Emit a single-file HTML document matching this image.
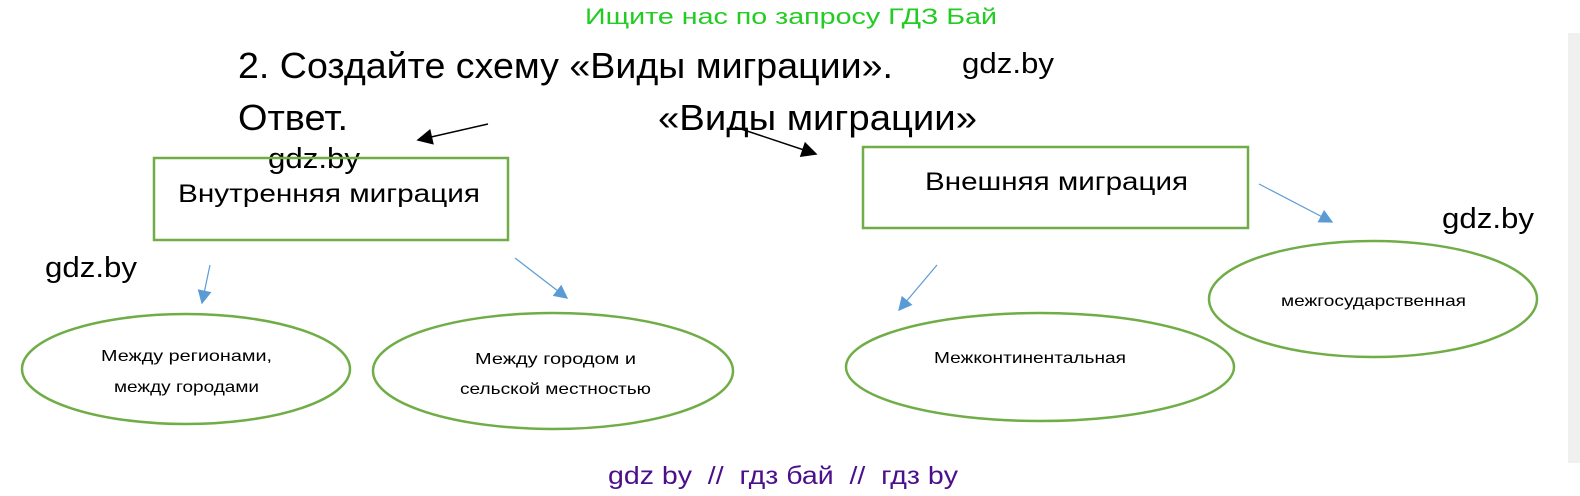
<!DOCTYPE html>
<html><head><meta charset="utf-8"><style>
html,body{margin:0;padding:0;background:#fff;}
svg{display:block;}
</style></head><body>
<svg width="1580" height="496" viewBox="0 0 1580 496" xmlns="http://www.w3.org/2000/svg">
<defs>
<marker id="ab" viewBox="0 0 10 10" refX="9" refY="5" markerUnits="userSpaceOnUse" markerWidth="20" markerHeight="16" orient="auto"><path d="M0,0 L10,5 L0,10 z" fill="#000"/></marker>
<marker id="ablue" viewBox="0 0 10 10" refX="9" refY="5" markerUnits="userSpaceOnUse" markerWidth="16" markerHeight="14" orient="auto"><path d="M0,0 L10,5 L0,10 z" fill="#5b9bd5"/></marker>
</defs>
<rect x="1568" y="33" width="12" height="430" fill="#f0f0f0"/>
<g font-family="Liberation Sans, DejaVu Sans, sans-serif">
<text x="585" y="24" font-size="22" fill="#22cc22" textLength="412" lengthAdjust="spacingAndGlyphs">Ищите нас по запросу ГДЗ Бай</text>
<text x="238" y="78" font-size="36" fill="#000" textLength="655" lengthAdjust="spacingAndGlyphs">2. Создайте схему «Виды миграции».</text>
<text x="962" y="73" font-size="29" fill="#000" textLength="92" lengthAdjust="spacingAndGlyphs">gdz.by</text>
<text x="238" y="130" font-size="36" fill="#000" textLength="110" lengthAdjust="spacingAndGlyphs">Ответ.</text>
<text x="658" y="130" font-size="36" fill="#000" textLength="319" lengthAdjust="spacingAndGlyphs">«Виды миграции»</text>
<text x="268" y="168" font-size="29" fill="#000" textLength="92" lengthAdjust="spacingAndGlyphs">gdz.by</text>
<text x="1442" y="228" font-size="29" fill="#000" textLength="92" lengthAdjust="spacingAndGlyphs">gdz.by</text>
<text x="45" y="277" font-size="29" fill="#000" textLength="92" lengthAdjust="spacingAndGlyphs">gdz.by</text>
</g>
<line x1="488" y1="124" x2="418" y2="140" stroke="#000" stroke-width="1.5" marker-end="url(#ab)"/>
<line x1="735" y1="127" x2="816" y2="154" stroke="#000" stroke-width="1.5" marker-end="url(#ab)"/>
<rect x="154" y="158" width="354" height="82" fill="none" stroke="#70ad47" stroke-width="2.5"/>
<rect x="863" y="147" width="385" height="81" fill="none" stroke="#70ad47" stroke-width="2.5"/>
<g font-family="Liberation Sans, DejaVu Sans, sans-serif" fill="#000">
<text x="178" y="202" font-size="25" textLength="302" lengthAdjust="spacingAndGlyphs">Внутренняя миграция</text>
<text x="925" y="190" font-size="25" textLength="263" lengthAdjust="spacingAndGlyphs">Внешняя миграция</text>
</g>
<g stroke="#5b9bd5" stroke-width="1.2" fill="none">
<line x1="210" y1="265" x2="202" y2="303" marker-end="url(#ablue)"/>
<line x1="515" y1="258" x2="567" y2="298" marker-end="url(#ablue)"/>
<line x1="937" y1="265" x2="899" y2="310" marker-end="url(#ablue)"/>
<line x1="1259" y1="184" x2="1332" y2="222" marker-end="url(#ablue)"/>
</g>
<g fill="none" stroke="#70ad47" stroke-width="2.5">
<ellipse cx="186" cy="369" rx="164" ry="55"/>
<ellipse cx="553" cy="371" rx="180" ry="58"/>
<ellipse cx="1040" cy="367" rx="194" ry="54"/>
<ellipse cx="1373" cy="299" rx="164" ry="58"/>
</g>
<g font-family="Liberation Sans, DejaVu Sans, sans-serif" font-size="16" fill="#000">
<text x="101" y="361" textLength="171" lengthAdjust="spacingAndGlyphs">Между регионами,</text>
<text x="114" y="392" textLength="145" lengthAdjust="spacingAndGlyphs">между городами</text>
<text x="475" y="364" textLength="161" lengthAdjust="spacingAndGlyphs">Между городом и</text>
<text x="460" y="394" textLength="191" lengthAdjust="spacingAndGlyphs">сельской местностью</text>
<text x="934" y="363" textLength="192" lengthAdjust="spacingAndGlyphs">Межконтинентальная</text>
<text x="1281" y="306" textLength="185" lengthAdjust="spacingAndGlyphs">межгосударственная</text>
</g>
<text x="608" y="484" font-family="Liberation Sans, DejaVu Sans, sans-serif" font-size="25" fill="#4b0f8c" textLength="350" lengthAdjust="spacingAndGlyphs" xml:space="preserve">gdz by  //  гдз бай  //  гдз by</text>
</svg>
</body></html>
